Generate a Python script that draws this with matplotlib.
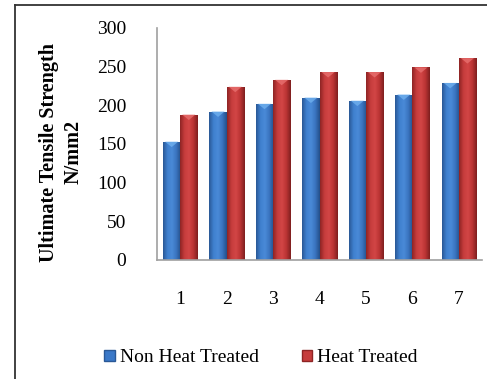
import numpy as np
import matplotlib
matplotlib.use('Agg')
import matplotlib.pyplot as plt
from matplotlib.patches import Rectangle, Polygon
from matplotlib.lines import Line2D
from matplotlib.colors import LinearSegmentedColormap

plt.rcParams['font.family'] = ['Liberation Serif', 'DejaVu Serif']

# tensile strength per specimen
samples = ['1', '2', '3', '4', '5', '6', '7']
non_heat = [153, 192, 202, 210, 206, 214, 229]
heat = [188, 224, 233, 243, 243, 249, 261]
series_names = ['Non Heat Treated', 'Heat Treated']
yticks = [0, 50, 100, 150, 200, 250, 300]

fig = plt.figure(figsize=(4.87, 3.79), dpi=100)
ax = fig.add_axes([157/487, 1-260/379, 325/487, 232/379])

# outer frame: only the left and top edges are drawn
fl, ft = 14.5/487, 1-5/379
fig.lines.append(Line2D([fl, fl], [0, ft], transform=fig.transFigure, color='#333333', lw=1.3))
fig.lines.append(Line2D([fl, 1], [ft, ft], transform=fig.transFigure, color='#333333', lw=1.3))

x = np.arange(len(samples))
w = 0.37
blue_cmap = LinearSegmentedColormap.from_list('b', ['#2a5896', '#3f80cf', '#4a8ad8', '#3a74bf', '#244f8a'])
red_cmap = LinearSegmentedColormap.from_list('r', ['#8e2424', '#c63c3c', '#d24646', '#bb3434', '#7e1f1f'])
cap_colors = ['#6fb0ee', '#e8706f']

grad = np.linspace(0, 1, 64).reshape(1, -1)
for vals, off, cmap, cap in [(non_heat, -w/2, blue_cmap, cap_colors[0]),
                             (heat, w/2, red_cmap, cap_colors[1])]:
    bars = ax.bar(x + off, vals, width=w, color='none', edgecolor='none')
    for b in bars:
        x0, bw, h = b.get_x(), b.get_width(), b.get_height()
        im = ax.imshow(grad, cmap=cmap, aspect='auto', extent=[x0, x0 + bw, 0, h], zorder=2)
        im.set_clip_path(b)
        ax.add_patch(Polygon([[x0 + 0.12*bw, h], [x0 + 0.88*bw, h], [x0 + 0.5*bw, h - 7]],
                             closed=True, color=cap, alpha=0.8, lw=0, zorder=3))

ax.set_xlim(-0.5, len(samples) - 0.5)
ax.set_ylim(0, 300)
ax.set_yticks(yticks)
ax.set_xticks(x)
ax.set_xticklabels(samples)
ax.tick_params(length=0, labelsize=14)
ax.tick_params(axis='y', pad=22)
ax.tick_params(axis='x', pad=22)
for s in ['top', 'right']:
    ax.spines[s].set_visible(False)
for s in ['left', 'bottom']:
    ax.spines[s].set_color('#a0a0a0')
    ax.spines[s].set_linewidth(1.2)

fig.text(61/487, 1-152/379, 'Ultimate Tensile Strength\nN/mm2', rotation=90,
         ha='center', va='center', ma='center', fontsize=14.5, fontweight='bold', linespacing=1.3)

handles = [Rectangle((0, 0), 1, 1, facecolor='#3a78c8', edgecolor='#2a5896'),
           Rectangle((0, 0), 1, 1, facecolor='#c63c3c', edgecolor='#8e2424')]
fig.legend(handles, series_names, loc='center', bbox_to_anchor=(261/487, 1-358/379), ncol=2,
           frameon=False, fontsize=14, handlelength=0.55, handleheight=0.55,
           handletextpad=0.25, columnspacing=2.2)

fig.savefig('out.png', dpi=100)
